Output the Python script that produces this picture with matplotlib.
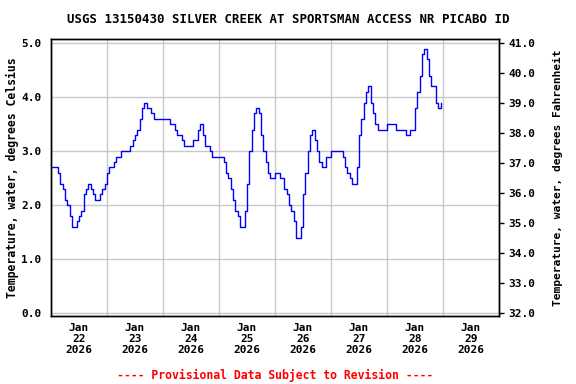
import numpy as np
import pandas as pd
import matplotlib
matplotlib.use("Agg")
import matplotlib.pyplot as plt
import matplotlib.dates as mdates

# Hourly water temperature (deg C)
jan22 = [2.7, 2.7, 2.7, 2.6, 2.4, 2.3, 2.1, 2.0, 1.8, 1.6, 1.6, 1.7,
         1.8, 1.9, 2.2, 2.3, 2.4, 2.3, 2.2, 2.1, 2.1, 2.2, 2.3, 2.4]
jan23 = [2.6, 2.7, 2.7, 2.8, 2.9, 2.9, 3.0, 3.0, 3.0, 3.0, 3.1, 3.2,
         3.3, 3.4, 3.6, 3.8, 3.9, 3.8, 3.8, 3.7, 3.6, 3.6, 3.6, 3.6]
jan24 = [3.6, 3.6, 3.6, 3.5, 3.5, 3.4, 3.3, 3.3, 3.2, 3.1, 3.1, 3.1,
         3.1, 3.2, 3.2, 3.4, 3.5, 3.3, 3.1, 3.1, 3.0, 2.9, 2.9, 2.9]
jan25 = [2.9, 2.9, 2.8, 2.6, 2.5, 2.3, 2.1, 1.9, 1.8, 1.6, 1.6, 1.9,
         2.4, 3.0, 3.4, 3.7, 3.8, 3.7, 3.3, 3.0, 2.8, 2.6, 2.5, 2.5]
jan26 = [2.6, 2.6, 2.5, 2.5, 2.3, 2.2, 2.0, 1.9, 1.7, 1.4, 1.4, 1.6,
         2.2, 2.6, 3.0, 3.3, 3.4, 3.2, 3.0, 2.8, 2.7, 2.7, 2.9, 2.9]
jan27 = [3.0, 3.0, 3.0, 3.0, 3.0, 2.9, 2.7, 2.6, 2.5, 2.4, 2.4, 2.7,
         3.3, 3.6, 3.9, 4.1, 4.2, 3.9, 3.7, 3.5, 3.4, 3.4, 3.4, 3.4]
jan28 = [3.5, 3.5, 3.5, 3.5, 3.4, 3.4, 3.4, 3.4, 3.3, 3.3, 3.4, 3.4,
         3.8, 4.1, 4.4, 4.8, 4.9, 4.7, 4.4, 4.2, 4.2, 3.9, 3.8, 3.9]

temp_c = jan22 + jan23 + jan24 + jan25 + jan26 + jan27 + jan28
times = pd.date_range("2026-01-22 00:00", periods=len(temp_c), freq="1h")

day_labels = ["Jan\n22\n2026", "Jan\n23\n2026", "Jan\n24\n2026", "Jan\n25\n2026",
              "Jan\n26\n2026", "Jan\n27\n2026", "Jan\n28\n2026", "Jan\n29\n2026"]

mono = "DejaVu Sans Mono"

fig = plt.figure(figsize=(5.76, 3.84), dpi=100)
ax = fig.add_axes([0.0885, 0.178, 0.7778, 0.7197])

ax.step(times, temp_c, where="post", color="#0000ff", linewidth=1.0, zorder=3)

start = pd.Timestamp("2026-01-22")
end = pd.Timestamp("2026-01-30")
ax.set_xlim(start, end)
ax.set_ylim(-0.044, 5.074)

# gridlines at midnight, labels at noon
midnights = pd.date_range(start, end, freq="1D")
noons = pd.date_range("2026-01-22 12:00", periods=len(day_labels), freq="1D")
ax.set_xticks(midnights, minor=True)
ax.set_xticks(noons)
ax.set_xticklabels(day_labels, fontfamily=mono, fontweight="bold", fontsize=8,
                   linespacing=1.15)
ax.tick_params(axis="x", which="both", length=0, pad=5)
ax.grid(True, which="minor", axis="x", color="#c8c8c8", linewidth=1.0)
ax.grid(False, which="major", axis="x")

ax.set_yticks(np.arange(0, 5.01, 1.0))
ax.set_yticklabels([f"{v:.1f}" for v in np.arange(0, 5.01, 1.0)],
                   fontfamily=mono, fontweight="bold", fontsize=8)
ax.tick_params(axis="y", length=0, pad=7)
ax.grid(True, which="major", axis="y", color="#c8c8c8", linewidth=1.0)
ax.set_axisbelow(True)

ax.set_ylabel("Temperature, water, degrees Celsius", fontfamily=mono,
              fontweight="bold", fontsize=8.3, labelpad=1.5)

# Fahrenheit axis on the right
ax2 = ax.twinx()
lo, hi = ax.get_ylim()
ax2.set_ylim(lo * 1.8 + 32, hi * 1.8 + 32)
f_ticks = np.arange(32, 42, 1)
ax2.set_yticks(f_ticks)
ax2.set_yticklabels([f"{v:.1f}" for v in f_ticks], fontfamily=mono,
                    fontweight="bold", fontsize=8)
ax2.tick_params(axis="y", length=3.5, width=1.0, pad=3)
ax2.set_ylabel("Temperature, water, degrees Fahrenheit", fontfamily=mono,
               fontweight="bold", fontsize=8.1, labelpad=13)

for a in (ax, ax2):
    for s in a.spines.values():
        s.set_linewidth(1.0)
        s.set_color("black")

fig.text(0.5, 0.948, "USGS 13150430 SILVER CREEK AT SPORTSMAN ACCESS NR PICABO ID",
         ha="center", va="center", fontfamily=mono, fontweight="bold", fontsize=8.9)
fig.text(0.4774, 0.023, "---- Provisional Data Subject to Revision ----",
         ha="center", va="center", color="red", fontfamily=mono,
         fontweight="bold", fontsize=8.3)

fig.savefig("out.png", dpi=100)
